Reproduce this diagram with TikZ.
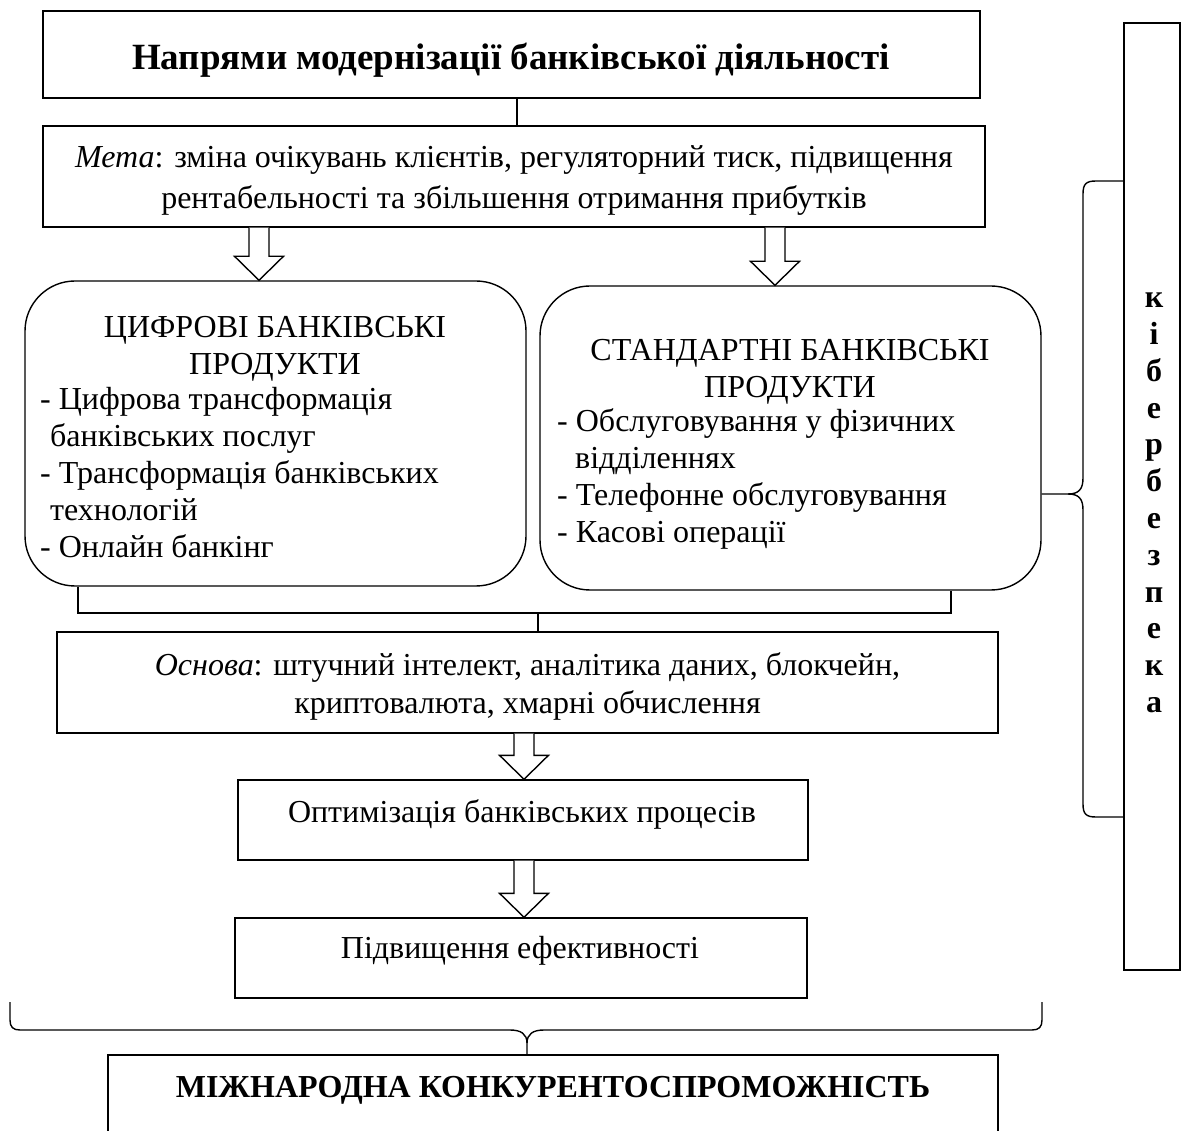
\documentclass[tikz,border=0pt]{standalone}
\usepackage{fontspec}
\setmainfont{Liberation Serif}
\usetikzlibrary{calc}
\begin{document}
\begin{tikzpicture}[x=1pt,y=-1pt,
  box/.style={draw, line width=1.4pt, inner sep=0pt},
  rbox/.style={box, rounded corners=50pt},
  body/.style={inner sep=0pt, font=\fontsize{32}{37}\selectfont},
  conn/.style={line width=1.4pt},
  arrowline/.style={line width=1.4pt, fill=white, line join=miter}]
\useasboundingbox (0,0) rectangle (1187,1131);
\clip (0,0) rectangle (1187,1131);

% main column of boxes
\node[box, minimum width=937pt, minimum height=87pt] (title) at (511.5,54.5) {};
\node[box, minimum width=942pt, minimum height=101pt] (meta) at (514,176.5) {};
\node[rbox, minimum width=501pt, minimum height=305pt] (lbox) at (275.5,433.5) {};
\node[rbox, minimum width=501pt, minimum height=304pt] (rbox) at (790.5,438) {};
\node[box, minimum width=941pt, minimum height=101pt] (osnova) at (527.5,682.5) {};
\node[box, minimum width=570pt, minimum height=80pt] (optim) at (523,820) {};
\node[box, minimum width=572pt, minimum height=80pt] (pidv) at (521,958) {};
\node[box, minimum width=890pt, minimum height=100pt] (intl) at (553,1105) {};
\node[box, minimum width=56pt, minimum height=947pt] (cyber) at (1152,496.5) {};

% texts inside the boxes
\node[body, anchor=mid, font=\fontsize{37}{40}\selectfont\bfseries] (titletext) at (511,67)
  {Напрями модернізації банківської діяльності};
\node[body, align=center, font=\fontsize{32}{41}\selectfont] (metatext) at (514,181)
  {\textit{Мета}: зміна очікувань клієнтів, регуляторний тиск, підвищення\\
   рентабельності та збільшення отримання прибутків};
\node[body, align=center] (lhead) at (275,348.5) {ЦИФРОВІ БАНКІВСЬКІ\\ПРОДУКТИ};
\node[body, align=left, anchor=north west] (llist) at (40,387.5)
  {- Цифрова трансформація\\
   \hspace*{10pt}банківських послуг\\
   - Трансформація банківських\\
   \hspace*{10pt}технологій\\
   - Онлайн банкінг};
\node[body, align=center] (rhead) at (790,372) {СТАНДАРТНІ БАНКІВСЬКІ\\ПРОДУКТИ};
\node[body, align=left, anchor=north west] (rlist) at (557,408.5)
  {- Обслуговування у фізичних\\
   \hspace*{18pt}відділеннях\\
   - Телефонне обслуговування\\
   - Касові операції};
\node[body, align=center, font=\fontsize{32}{38}\selectfont] (osnovatext) at (527.5,686)
  {\textit{Основа}: штучний інтелект, аналітика даних, блокчейн,\\
   криптовалюта, хмарні обчислення};
\node[body, anchor=mid] (optimtext) at (522,820) {Оптимізація банківських процесів};
\node[body, anchor=mid] (pidvtext) at (520,956) {Підвищення ефективності};
\node[body, anchor=mid, font=\fontsize{32}{37}\selectfont\bfseries] (intltext) at (553,1095)
  {МІЖНАРОДНА КОНКУРЕНТОСПРОМОЖНІСТЬ};
\node[body, align=center, font=\fontsize{32}{36.8}\selectfont\bfseries] (cybertext) at (1154,503)
  {к\\і\\б\\е\\р\\б\\е\\з\\п\\е\\к\\а};

% title to goal
\coordinate (c1) at (517,0);
\draw[conn] (c1 |- title.south) -- (c1 |- meta.north);

% block arrows: source node, target node, x of the axis
\newcommand{\blockarrow}[3]{%
  \path let \p1=(#1.south), \p2=(#2.north) in
    [draw, arrowline] ({#3pt-10pt},\y1) -- ({#3pt-10pt},\y2+24pt) -- ({#3pt-24.5pt},\y2+24pt)
      -- (#3pt,\y2) -- ({#3pt+24.5pt},\y2+24pt) -- ({#3pt+10pt},\y2+24pt) -- ({#3pt+10pt},\y1);}
\blockarrow{meta}{lbox}{259}
\blockarrow{meta}{rbox}{775}
\blockarrow{osnova}{optim}{524}
\blockarrow{optim}{pidv}{524}

% bracket joining both product boxes to the foundation
\coordinate (brL) at (78,613);
\coordinate (brR) at (951,613);
\coordinate (brM) at (538,613);
\draw[conn] (brL |- lbox.south) -- (brL) -- (brR) -- (brR |- rbox.south);
\draw[conn] (brM) -- (brM |- osnova.north);

% brace from the cybersecurity column to the standard products
\coordinate (cyTop) at (cyber.west |- 0,181);
\coordinate (cyBot) at (cyber.west |- 0,817);
\coordinate (cyTip) at (rbox.east |- 0,494);
\draw[conn] (cyTop) -- (1096,181) .. controls (1086,181) and (1083,184) .. (1083,194)
  -- (1083,478) .. controls (1083,489) and (1079,494) .. (1068,494) -- (cyTip);
\draw[conn] (cyBot) -- (1096,817) .. controls (1086,817) and (1083,814) .. (1083,804)
  -- (1083,510) .. controls (1083,499) and (1079,494) .. (1068,494);

% brace gathering everything into international competitiveness
\coordinate (btip) at (527,0);
\draw[conn] (10,1002) -- (10,1020) .. controls (10,1027) and (13,1030) .. (20,1030)
  -- (510,1030) .. controls (521,1030) and (527,1034) .. (527,1043) -- (btip |- intl.north);
\draw[conn] (1042,1002) -- (1042,1020) .. controls (1042,1027) and (1039,1030) .. (1032,1030)
  -- (544,1030) .. controls (533,1030) and (527,1034) .. (527,1043);
\end{tikzpicture}
\end{document}
